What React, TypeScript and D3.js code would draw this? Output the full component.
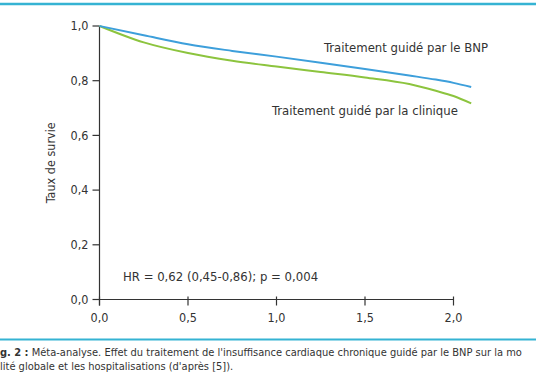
import * as d3 from 'd3';
import React from 'react';

// survival curves (time in years)
const times = [0, 0.25, 0.5, 0.75, 1.0, 1.25, 1.5, 1.75, 1.9, 2.0, 2.1];
const bnpValues = [1.0, 0.966, 0.933, 0.909, 0.888, 0.866, 0.843, 0.819, 0.804, 0.792, 0.777];
const cliniqueValues = [1.0, 0.94, 0.901, 0.873, 0.852, 0.832, 0.812, 0.788, 0.763, 0.744, 0.717];
const xTicks = [0, 0.5, 1.0, 1.5, 2.0];
const yTicks = [0, 0.2, 0.4, 0.6, 0.8, 1.0];

const FONT = "'DejaVu Sans Condensed', 'Liberation Sans Narrow', Roboto, sans-serif";
const fmt = (v: number) => v.toFixed(1).replace('.', ',');

export default function App() {
	const width = 536;
	const height = 386;

	const x = d3.scaleLinear().domain([0, 2]).range([99.5, 453.5]);
	const y = d3.scaleLinear().domain([0, 1]).range([299.5, 26]);

	const line = d3
		.line<[number, number]>()
		.x(d => x(d[0]))
		.y(d => y(d[1]))
		.curve(d3.curveMonotoneX);

	const bnp = times.map((t, i) => [t, bnpValues[i]] as [number, number]);
	const clin = times.map((t, i) => [t, cliniqueValues[i]] as [number, number]);

	const axisColor = '#333';
	const textColor = '#333';

	return (
		<svg
			width={width}
			height={height}
			style={{ position: 'absolute', left: 0, top: 0, background: '#fff' }}
			fontFamily={FONT}
		>
			<rect width={width} height={height} fill="#fff" />
			{/* frame rules */}
			<line x1={0} x2={width} y1={4} y2={4} stroke="#35b3d3" strokeWidth={2.5} />
			<line x1={0} x2={width} y1={339.5} y2={339.5} stroke="#35b3d3" strokeWidth={2} />

			{/* y axis */}
			<line x1={x(0)} x2={x(0)} y1={y(1)} y2={y(0) + 6} stroke={axisColor} strokeWidth={1.2} />
			{yTicks.map(t => (
				<g key={'y' + t}>
					<line x1={x(0) - 7} x2={x(0)} y1={y(t)} y2={y(t)} stroke={axisColor} strokeWidth={1.2} />
					<text x={x(0) - 11} y={y(t)} dy="0.35em" textAnchor="end" fontSize={12.5} fill={textColor}>
						{fmt(t)}
					</text>
				</g>
			))}
			<text
				transform={`translate(51,${(y(0) + y(1)) / 2}) rotate(-90)`}
				textAnchor="middle"
				dy="0.35em"
				fontSize={12.5}
				fill={textColor}
			>
				Taux de survie
			</text>

			{/* x axis */}
			<line x1={x(0)} x2={x(2)} y1={y(0)} y2={y(0)} stroke={axisColor} strokeWidth={1.2} />
			{xTicks.map(t => (
				<g key={'x' + t}>
					<line x1={x(t)} x2={x(t)} y1={y(0) - 3} y2={y(0) + 6} stroke={axisColor} strokeWidth={1.2} />
					<text x={x(t)} y={y(0) + 18} dy="0.35em" textAnchor="middle" fontSize={12.5} fill={textColor}>
						{fmt(t)}
					</text>
				</g>
			))}

			{/* curves */}
			<path d={line(clin) || ''} fill="none" stroke="#8cc43e" strokeWidth={2} />
			<path d={line(bnp) || ''} fill="none" stroke="#3d9fdb" strokeWidth={2} />

			<text x={324} y={52} fontSize={13} fill={textColor}>
				Traitement guidé par le BNP
			</text>
			<text x={272} y={115} fontSize={13} fill={textColor}>
				Traitement guidé par la clinique
			</text>
			<text x={123} y={280.5} fontSize={13} fill={textColor}>
				HR = 0,62 (0,45-0,86); p = 0,004
			</text>

			{/* caption */}
			<text x={0} y={356} fontSize={11} fill={textColor}>
				<tspan fontWeight="bold">g. 2 :</tspan> Méta-analyse. Effet du traitement de l'insuffisance cardiaque chronique guidé par le BNP sur la mo
			</text>
			<text x={0} y={370} fontSize={11} fill={textColor}>
				lité globale et les hospitalisations (d'après [5]).
			</text>
		</svg>
	);
}
